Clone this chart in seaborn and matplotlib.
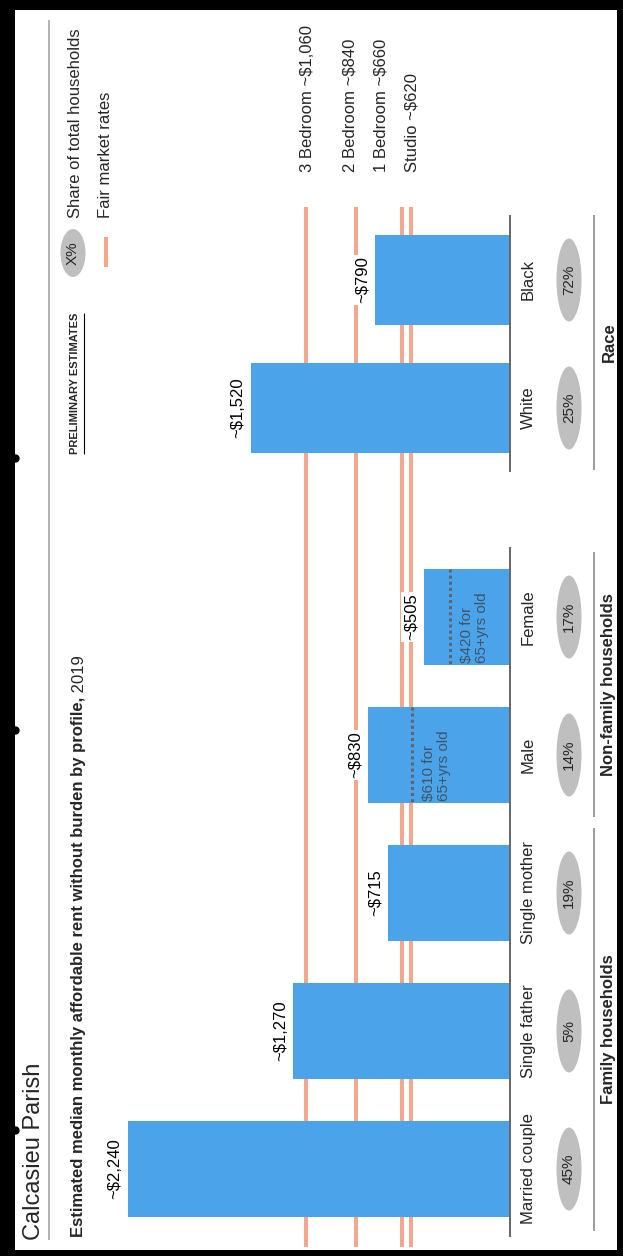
import numpy as np
import pandas as pd
import seaborn as sns
import matplotlib.pyplot as plt
from matplotlib.patches import Ellipse, Rectangle
from matplotlib.transforms import offset_copy

# ---- data ----
family_profiles = ['Married couple', 'Single father', 'Single mother', 'Male', 'Female']
family_group = ['Family households', 'Family households', 'Family households',
                'Non-family households', 'Non-family households']
family_rent = [2240, 1270, 715, 830, 505]
family_share = ['45%', '5%', '19%', '14%', '17%']

race_profiles = ['White', 'Black']
race_rent = [1520, 790]
race_share = ['25%', '72%']

senior_profiles = ['Male', 'Female']
senior_rent = [610, 420]
senior_mark = [575, 352]          # where the dotted marker sits in the source

fmr_labels = ['3 Bedroom ~$1,060', '2 Bedroom ~$840', '1 Bedroom ~$660', 'Studio ~$620']
fmr_mark = [1196, 903, 633, 581]  # line positions as drawn in the source

BLUE = '#4BA4EA'
SALMON = '#F2A88C'
GREY = '#BFBFBF'

sns.set_style('white')
plt.rcParams['font.family'] = ['Liberation Sans', 'DejaVu Sans']

W, H = 623, 1256
fig = plt.figure(figsize=(W / 100, H / 100), dpi=100)
fig.patch.set_facecolor('white')

# main axes: x = dollars (slide is rotated, bars grow to the left), y = pixel rows
ax = fig.add_axes([0, 0, 1, 1])
base_px, px_per_dollar = 510, 0.1705
xlim = (base_px / px_per_dollar, -(W - base_px) / px_per_dollar)

fam = pd.DataFrame({'profile': family_profiles, 'group': family_group,
                    'rent': family_rent, 'share': family_share})
fam['pos'] = 1169 - 138 * np.arange(len(fam))
race = pd.DataFrame({'profile': race_profiles, 'rent': race_rent, 'share': race_share})
race['pos'] = 408 - 128 * np.arange(len(race))

# fair market rate lines behind the bars
ax.vlines(fmr_mark, 207, 1247, colors=SALMON, lw=2.9, zorder=1)

sns.barplot(data=fam, x='rent', y='pos', orient='h', native_scale=True, color=BLUE,
            saturation=1, width=0.70, errorbar=None, linewidth=0, zorder=2, ax=ax)
sns.barplot(data=race, x='rent', y='pos', orient='h', native_scale=True, color=BLUE,
            saturation=1, width=0.71, errorbar=None, linewidth=0, zorder=2, ax=ax)

# baselines
ax.vlines(0, fam['pos'].min() - 70, fam['pos'].max() + 68, colors='#666666', lw=1.4, zorder=3)
ax.vlines(0, race['pos'].min() - 65, race['pos'].max() + 64, colors='#666666', lw=1.4, zorder=3)

# value labels above the bars
lab_tr = offset_copy(ax.transData, fig=fig, x=-13, y=0, units='dots')
for df in (fam, race):
    for _, r in df.iterrows():
        ax.text(r['rent'], r['pos'], f"~${r['rent']:,}", transform=lab_tr, rotation=90,
                ha='center', va='center', fontsize=12, color='black', zorder=4,
                bbox=dict(boxstyle='square,pad=0.12', fc='white', ec='none'))

# 65+ dotted markers
sen_tr = offset_copy(ax.transData, fig=fig, x=10, y=0, units='dots')
for prof, val, mark in zip(senior_profiles, senior_rent, senior_mark):
    p = fam.loc[fam['profile'] == prof, 'pos'].iloc[0]
    ax.plot([mark, mark], [p - 48, p + 48], ls=(0, (1, 1)), color='#5b6670', lw=2.2, zorder=3)
    ax.text(mark, p + 46, f"${val} for\n65+yrs old", transform=sen_tr, rotation=90,
            ha='left', va='bottom', fontsize=11, color='#3f5568', linespacing=1.05,
            multialignment='left', zorder=4)

ax.set_xlim(*xlim)
ax.set_ylim(H, 0)
ax.axis('off')

# layout axes in pixel units
lay = fig.add_axes([0, 0, 1, 1])
lay.set_xlim(0, W)
lay.set_ylim(H, 0)
lay.axis('off')

rot = dict(rotation=90)

# category labels and share ellipses
for df in (fam, race):
    for _, r in df.iterrows():
        lay.text(528, r['pos'], r['profile'], ha='center', va='center', fontsize=12, **rot)
        lay.add_patch(Ellipse((569, r['pos']), 25, 83, fc=GREY, ec='none'))
        lay.text(569, r['pos'], r['share'], ha='center', va='center', fontsize=11,
                 color='#262626', **rot)

# group brackets
groups = [(fam['pos'][fam['group'] == g], g) for g in ['Family households', 'Non-family households']]
groups.append((race['pos'], 'Race'))
for pos, name in groups:
    lo, hi = pos.min() - 65, pos.max() + 62
    lay.vlines(594, lo, hi, colors='#808080', lw=1.1)
    lay.text(609, (lo + hi) / 2, name, ha='center', va='center', fontsize=12,
             fontweight='bold', **rot)

# fair market rate labels
for lx, t in zip([307, 350, 381, 412], fmr_labels):
    lay.text(lx, 172, t, ha='center', va='bottom', fontsize=12, **rot)

# title block
lay.text(34, 1240, 'Calcasieu Parish', ha='center', va='bottom', fontsize=17, **rot)
lay.vlines(49, 20, 1240, colors='#A6A6A6', lw=1.2)
sub = lay.text(79, 1237, 'Estimated median monthly affordable rent without burden by profile,',
               ha='center', va='bottom', fontsize=12, fontweight='bold', **rot)
prelim = lay.text(75, 313, 'PRELIMINARY ESTIMATES', ha='center', va='top', fontsize=8,
                  fontweight='bold', **rot)

# legend
lay.add_patch(Ellipse((73, 253), 25, 48, fc=GREY, ec='none'))
lay.text(73, 253, 'X%', ha='center', va='center', fontsize=11, color='#262626', **rot)
lay.text(75, 218, 'Share of total households', ha='center', va='bottom', fontsize=12, **rot)
lay.vlines(106, 237, 267, colors=SALMON, lw=2.9)
lay.text(105, 218, 'Fair market rates', ha='center', va='bottom', fontsize=12, **rot)

# slide frame
for x0, y0, w, h in [(0, 0, 15, H), (0, 0, W, 10), (0, 1250, W, 6), (617, 0, 6, H)]:
    lay.add_patch(Rectangle((x0, y0), w, h, fc='black', ec='none', zorder=5))
lay.plot([15, 15, 15], [458, 730, 1130], 'o', ms=5, color='black', zorder=6)

# pieces that depend on rendered text size
fig.canvas.draw()
inv = lay.transData.inverted()
bb = sub.get_window_extent()
top_y = inv.transform((bb.x0, bb.y1))[1]
lay.text(79, top_y, ' 2019', ha='center', va='bottom', fontsize=12, **rot)
bb = prelim.get_window_extent()
(_, y_a), (_, y_b) = inv.transform([(bb.x0, bb.y0), (bb.x0, bb.y1)])
lay.vlines(84, min(y_a, y_b), max(y_a, y_b), colors='black', lw=0.8)

fig.savefig('out.png', dpi=100)
